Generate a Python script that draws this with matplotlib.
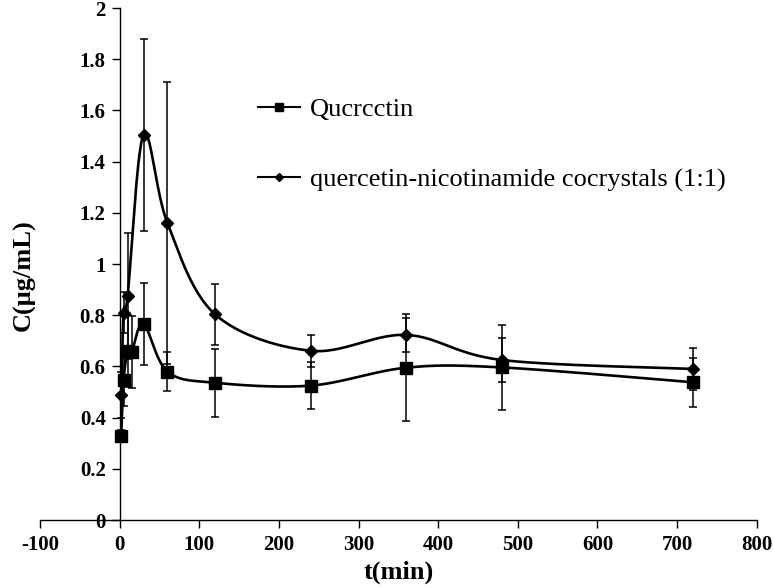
import numpy as np
import matplotlib
matplotlib.use('Agg')
import matplotlib.pyplot as plt
from matplotlib.lines import Line2D

# ---- data ----
t_que = [2, 5, 10, 15, 30, 60, 120, 240, 360, 480, 720]
c_que = [0.33, 0.545, 0.66, 0.655, 0.765, 0.58, 0.536, 0.525, 0.595, 0.596, 0.538]
e_que = [0.02, 0.10, 0.14, 0.14, 0.16, 0.075, 0.132, 0.091, 0.21, 0.166, 0.095]

t_coc = [2, 5, 10, 30, 60, 120, 240, 360, 480, 720]
c_coc = [0.49, 0.81, 0.875, 1.505, 1.16, 0.803, 0.661, 0.723, 0.625, 0.590]
e_coc = [0.09, 0.08, 0.245, 0.375, 0.55, 0.119, 0.062, 0.068, 0.086, 0.083]

labels = ['Qucrcctin', 'quercetin-nicotinamide cocrystals (1:1)']
x_ticks = list(range(-100, 801, 100))
y_ticks = [0, 0.2, 0.4, 0.6, 0.8, 1, 1.2, 1.4, 1.6, 1.8, 2]
y_ticklabels = ['0', '0.2', '0.4', '0.6', '0.8', '1', '1.2', '1.4', '1.6', '1.8', '2']

plt.rcParams['font.family'] = ['Liberation Serif', 'DejaVu Serif']
plt.rcParams['axes.unicode_minus'] = False

fig = plt.figure(figsize=(7.74, 5.88), dpi=100)
ax = fig.add_axes([40 / 774, 68 / 588, 716.7 / 774, 512 / 588])
ax.set_xlim(-100, 800)
ax.set_ylim(0, 2)


def smooth(ax, x, y, n=30):
    # Excel-like smoothed line: cubic Bezier with Catmull-Rom control points in display space
    pts = ax.transData.transform(np.column_stack([x, y]))
    out = []
    for i in range(len(pts) - 1):
        p0 = pts[max(i - 1, 0)]
        p1 = pts[i]
        p2 = pts[i + 1]
        p3 = pts[min(i + 2, len(pts) - 1)]
        c1 = p1 + (p2 - p0) / 6
        c2 = p2 - (p3 - p1) / 6
        s = np.linspace(0, 1, n)[:, None]
        seg = ((1 - s) ** 3) * p1 + 3 * ((1 - s) ** 2) * s * c1 + 3 * (1 - s) * s ** 2 * c2 + s ** 3 * p2
        out.append(seg)
    out = np.vstack(out)
    return ax.transData.inverted().transform(out)


for t, c, e in [(t_que, c_que, e_que), (t_coc, c_coc, e_coc)]:
    ax.errorbar(t, c, yerr=e, fmt='none', ecolor='black', elinewidth=1.1, capsize=2.8, capthick=1.1, zorder=2)
    curve = smooth(ax, t, c)
    ax.plot(curve[:, 0], curve[:, 1], color='black', lw=1.9, zorder=3)

ax.plot(t_que, c_que, ls='none', marker='s', ms=9, color='black', zorder=4)
ax.plot(t_coc, c_coc, ls='none', marker='D', ms=6.2, color='black', zorder=4)

# axes in Excel style: y axis crossing at x=0
ax.spines['top'].set_visible(False)
ax.spines['right'].set_visible(False)
ax.spines['left'].set_position(('data', 0))
ax.spines['left'].set_linewidth(1)
ax.spines['bottom'].set_linewidth(1)

ax.set_xticks(x_ticks)
ax.set_yticks(y_ticks)
ax.set_yticklabels(y_ticklabels)
ax.tick_params(direction='out', length=6, width=1, labelsize=15)
ax.tick_params(axis='y', pad=4)
ax.tick_params(axis='x', pad=5)
for lab in ax.get_xticklabels() + ax.get_yticklabels():
    lab.set_fontweight('bold')

ax.set_xlabel('t(min)', fontsize=19, fontweight='bold', labelpad=4)
ax.set_ylabel('C(μg/mL)', fontsize=19, fontweight='bold')
ax.yaxis.set_label_coords(-0.006, 0.479)

handles = [Line2D([], [], color='black', lw=1.5, marker='s', ms=6),
           Line2D([], [], color='black', lw=1.5, marker='D', ms=4.5)]
fig.legend(handles, labels, loc='upper left', bbox_to_anchor=(258 / 774, 1 - 98 / 588),
           frameon=False, fontsize=19, labelspacing=1.75, handlelength=1.6,
           handletextpad=0.38, borderpad=0, borderaxespad=0)

fig.savefig('out.png', dpi=100)
